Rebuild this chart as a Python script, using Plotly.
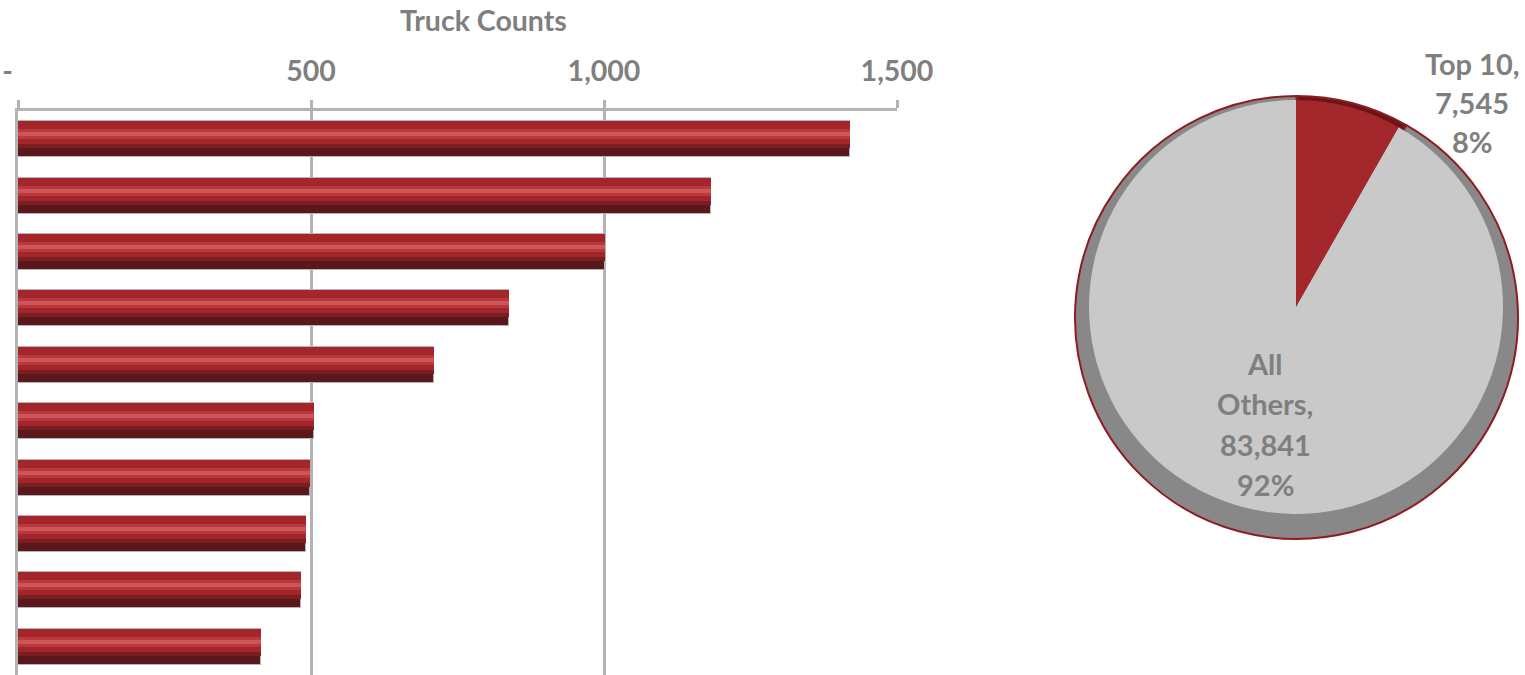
import plotly.graph_objects as go

# ---------------- data ----------------
ranks = ["Rank 1", "Rank 2", "Rank 3", "Rank 4", "Rank 5",
         "Rank 6", "Rank 7", "Rank 8", "Rank 9", "Rank 10"]
truck_counts = [1420, 1183, 1002, 838, 710, 505, 498, 491, 483, 415]
tick_vals = [0, 500, 1000, 1500]
tick_text = ["-\u00a0\u00a0\u00a0", "500", "1,000", "1,500"]
axis_title = "Truck Counts"

pie_labels = ["Top 10", "All Others"]
pie_values = [7545, 83841]

# ---------------- style ----------------
W, H = 1525, 675
FONT = "Lato"
GRAY_TXT = "#7f7f7f"
GRID = "#b3b3b3"

def px_x(p):
    return p / W

def px_y(p):
    return 1 - p / H

fig = go.Figure()

# bevelled bars built from stacked overlay layers (same data, different bands)
unit = 1 / 56.5  # one pixel in category units
top = -0.32
layers = [
    # (color, offset, width, line)
    ("#5a181c", top, 0.64, dict(color="#b5b5b5", width=1)),   # dark base
    ("#7b1e22", top, 27 * unit, dict(width=0)),               # transition
    ("#a4262a", top, 23 * unit, dict(width=0)),               # main red
    ("#b93a3e", top + 8 * unit, 10 * unit, dict(width=0)),    # soft glow
    ("#cf5558", top + 11 * unit, 4 * unit, dict(width=0)),    # highlight
]
for col, off, wid, ln in layers:
    fig.add_trace(go.Bar(
        x=truck_counts, y=ranks, orientation="h",
        marker=dict(color=col, line=ln),
        offset=off, width=wid, showlegend=False,
        hoverinfo="x+y", xaxis="x", yaxis="y",
    ))

# pie: outer darker ring + inner lighter disc (shifted slightly)
outer = dict(x=[px_x(1075), px_x(1518)], y=[px_y(539), px_y(96)])
inner = dict(x=[px_x(1089), px_x(1503)], y=[px_y(514), px_y(100)])
fig.add_trace(go.Pie(
    labels=pie_labels, values=pie_values, sort=False, direction="clockwise",
    rotation=0, domain=outer, textinfo="none", showlegend=False,
    marker=dict(colors=["#6a1518", "#888888"], line=dict(color="#8e1d22", width=2)),
))
fig.add_trace(go.Pie(
    labels=pie_labels, values=pie_values, sort=False, direction="clockwise",
    rotation=0, domain=inner, textinfo="none", showlegend=False,
    marker=dict(colors=["#a3282c", "#c9c9c9"], line=dict(width=0)),
))

# pie labels (text derived from data)
total = sum(pie_values)
pcts = [round(100 * v / total) for v in pie_values]
top_lines = [f"{pie_labels[0]},", f"{pie_values[0]:,}", f"{pcts[0]}%"]
oth_words = pie_labels[1].split(" ")
oth_lines = [oth_words[0], f"{oth_words[1]},", f"{pie_values[1]:,}", f"{pcts[1]}%"]

annotations = []
lab_font = dict(family=FONT, size=29, color=GRAY_TXT, weight="bold")
for i, t in enumerate(top_lines):
    annotations.append(dict(text=t, x=px_x(1472), y=px_y(63 + 39.5 * i),
                            xref="paper", yref="paper", showarrow=False,
                            xanchor="center", yanchor="middle", font=lab_font))
for i, t in enumerate(oth_lines):
    annotations.append(dict(text=t, x=px_x(1265), y=px_y(363 + 40.5 * i),
                            xref="paper", yref="paper", showarrow=False,
                            xanchor="center", yanchor="middle", font=lab_font))
# axis title
annotations.append(dict(text=axis_title, x=px_x(483), y=px_y(20),
                        xref="paper", yref="paper", showarrow=False,
                        xanchor="center", yanchor="middle",
                        font=dict(family=FONT, size=28.5, color=GRAY_TXT, weight="bold")))

fig.update_layout(
    width=W, height=H,
    margin=dict(l=0, r=0, t=0, b=0, autoexpand=False),
    paper_bgcolor="white", plot_bgcolor="white",
    barmode="overlay",
    bargap=0,
    xaxis=dict(
        domain=[px_x(18), px_x(897)], range=[0, 1500], side="top",
        tickvals=tick_vals, ticktext=tick_text,
        tickfont=dict(family=FONT, size=28.5, color=GRAY_TXT, weight="bold"),
        showline=True, linecolor=GRID, linewidth=2.5,
        ticks="outside", ticklen=8, tickcolor=GRID, tickwidth=2.5,
        showgrid=True, gridcolor=GRID, gridwidth=2.5,
        zeroline=False, ticklabelstandoff=8,
        anchor="y", automargin=False,
    ),
    yaxis=dict(
        domain=[0, px_y(111)], categoryorder="array", categoryarray=ranks,
        autorange="reversed", showticklabels=False, ticks="",
        showline=True, linecolor=GRID, linewidth=2.5, showgrid=False,
        zeroline=False, anchor="x", automargin=False,
    ),
    annotations=annotations,
)

fig.write_html("out.html")
